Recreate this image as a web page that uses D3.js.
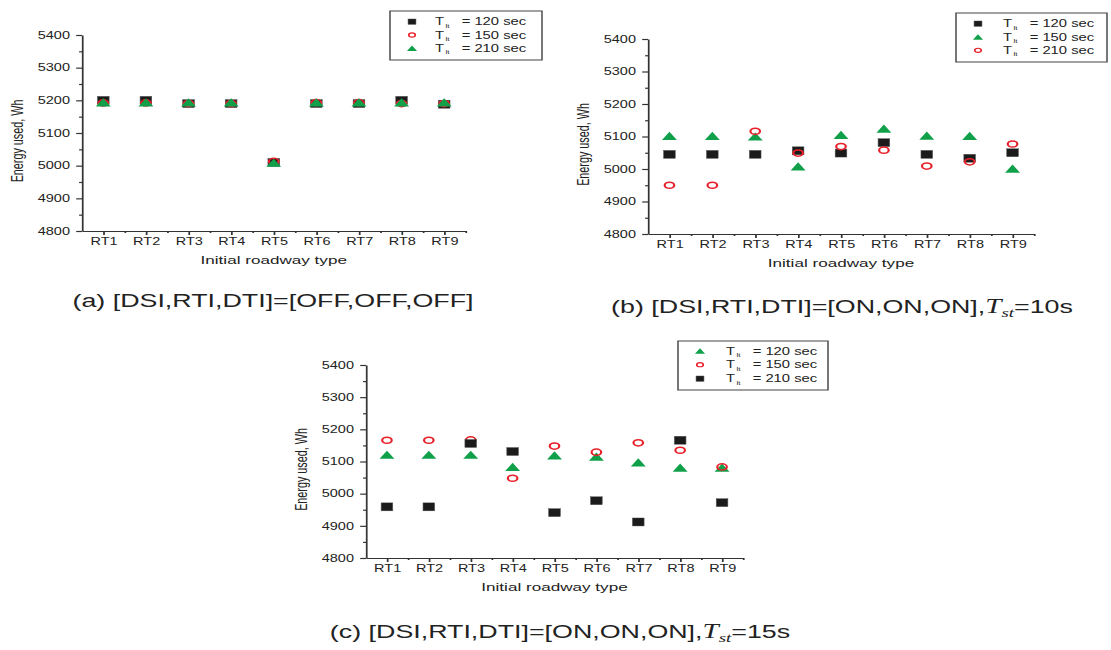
<!DOCTYPE html>
<html><head><meta charset="utf-8">
<script src="https://cdn.jsdelivr.net/npm/d3@7"></script>
<style>
body{margin:0;background:#fff}
svg{display:block}
text{font-family:"Liberation Sans",Arial,Helvetica,sans-serif;fill:#222}
</style>
</head><body>
<svg id="chart" width="1111" height="650"></svg>
<script>
// ---------- data ----------
const categories = ["RT1","RT2","RT3","RT4","RT5","RT6","RT7","RT8","RT9"];
const yTickValues = [4800,4900,5000,5100,5200,5300,5400];
const seriesLabels = ["120 sec","150 sec","210 sec"];

// (a) [OFF,OFF,OFF]
const a120 = [5200,5200,5190,5190,5010,5190,5190,5200,5188];
const a150 = [5192,5192,5190,5190,5013,5193,5193,5190,5190];
const a210 = [5194,5194,5194,5194,5009,5194,5194,5194,5194];
// (b) [ON,ON,ON], Tst=10s
const b120 = [5045,5045,5045,5056,5049,5081,5045,5033,5050];
const b150 = [5102,5102,5100,5008,5105,5124,5103,5102,5001];
const b210 = [4950,4950,5116,5049,5069,5058,5009,5022,5077];
// (c) [ON,ON,ON], Tst=15s
const c120 = [5121,5121,5121,5083,5119,5115,5097,5081,5081];
const c150 = [5166,5166,5167,5048,5148,5129,5158,5135,5083];
const c210 = [4959,4959,5156,5131,4941,4978,4912,5166,4972];

// ---------- layout ----------
const K = 1.45; // horizontal stretch of the whole figure
const svg = d3.select("#chart");
const root = svg.append("g").attr("transform", `scale(${K},1)`);

const RED = "#e8202a", GREEN = "#10a04a", BLACK = "#1b1b1b";

const panels = [
  {x0:82, x1:465.5, yTop:35, yBot:231,
   series:[{lab:seriesLabels[0], shape:"square", v:a120},
           {lab:seriesLabels[1], shape:"circle", v:a150},
           {lab:seriesLabels[2], shape:"triangle", v:a210}],
   leg:{x0:390, x1:542, y0:11, y1:60, rows:[21.7,35,48.3], mx:412, tx:435},
   cap:{x:273, y:307, main:"(a) [DSI,RTI,DTI]=[OFF,OFF,OFF]", tst:null}},
  {x0:648, x1:1034, yTop:39, yBot:234,
   series:[{lab:seriesLabels[0], shape:"square", v:b120},
           {lab:seriesLabels[1], shape:"triangle", v:b150},
           {lab:seriesLabels[2], shape:"circle", v:b210}],
   leg:{x0:956, x1:1107, y0:13, y1:62, rows:[23.7,37,50.3], mx:978, tx:1003},
   cap:{x:842, y:313, main:"(b) [DSI,RTI,DTI]=[ON,ON,ON],", tst:"=10s"}},
  {x0:366, x1:743, yTop:365, yBot:558,
   series:[{lab:seriesLabels[0], shape:"triangle", v:c120},
           {lab:seriesLabels[1], shape:"circle", v:c150},
           {lab:seriesLabels[2], shape:"square", v:c210}],
   leg:{x0:678, x1:828, y0:341, y1:390, rows:[351,364.7,378.7], mx:700, tx:726},
   cap:{x:560, y:638, main:"(c) [DSI,RTI,DTI]=[ON,ON,ON],", tst:"=15s"}}
];

function drawMarker(g, shape, cx, cy, s) {
  if (shape === "square") {
    g.append("rect").attr("x", cx - 4*s).attr("y", cy - 4*s)
      .attr("width", 8*s).attr("height", 8*s)
      .attr("fill", BLACK).attr("stroke", "#555").attr("stroke-width", 0.4);
  } else if (shape === "circle") {
    g.append("ellipse").attr("cx", cx).attr("cy", cy).attr("rx", 3.3*s).attr("ry", 3.1*s)
      .attr("fill", "none").attr("stroke", RED).attr("stroke-width", 1.5*s > 1.1 ? 1.5*s : 1.1);
  } else {
    const w = 10.3*s, h = 8.2*s;
    g.append("path")
      .attr("d", `M${cx - w/2},${cy + h/2}L${cx + w/2},${cy + h/2}L${cx},${cy - h/2}Z`)
      .attr("fill", GREEN);
  }
}

panels.forEach(p => {
  const g = root.append("g");
  const x = d3.scaleLinear().domain([0.5, 9.5]).range([p.x0 / K, p.x1 / K]);
  const y = d3.scaleLinear().domain([4800, 5400]).range([p.yBot, p.yTop]);

  // y axis
  const yAx = g.append("g").attr("transform", `translate(${x(0.5)},0)`)
    .call(d3.axisLeft(y).tickValues(yTickValues).tickFormat(d3.format("d"))
      .tickSize(4).tickSizeOuter(0).tickPadding(4.3));
  const yMinor = g.append("g").attr("transform", `translate(${x(0.5)},0)`)
    .call(d3.axisLeft(y).tickValues(d3.range(4850, 5400, 100)).tickSize(2).tickFormat(""));
  yMinor.select(".domain").remove();

  // x axis
  const xAx = g.append("g").attr("transform", `translate(0,${y(4800)})`)
    .call(d3.axisBottom(x).tickValues(d3.range(1, 10)).tickFormat(i => categories[i-1])
      .tickSize(4).tickSizeOuter(0).tickPadding(2.6));
  const xMinor = g.append("g").attr("transform", `translate(0,${y(4800)})`)
    .call(d3.axisBottom(x).tickValues(d3.range(1.5, 10, 1)).tickSize(2).tickFormat(""));
  xMinor.select(".domain").remove();

  [yAx, yMinor, xAx, xMinor].forEach(a => {
    a.selectAll("path,line").attr("stroke", "#333").attr("stroke-width", 1.2);
    a.selectAll("text").attr("font-size", 10).attr("fill", "#2a2a2a")
      .attr("font-family", '"Liberation Sans",Arial,sans-serif');
  });

  // axis titles
  g.append("text").attr("x", (x(0.5) + x(9.5)) / 2).attr("y", y(4800) + 33.5)
    .attr("text-anchor", "middle").attr("font-size", 11.8).attr("fill", "#2a2a2a")
    .text("Initial roadway type");
  const yc = (p.yTop + p.yBot) / 2 + 8;
  g.append("text").attr("transform", `translate(${x(0.5) - 40.5},${yc}) rotate(-90)`)
    .attr("text-anchor", "middle").attr("font-size", 10.8).attr("fill", "#2a2a2a")
    .text("Energy used, Wh");

  // markers
  p.series.forEach(s => {
    const mg = g.append("g");
    s.v.forEach((val, i) => drawMarker(mg, s.shape, x(i + 1), y(val), 1));
  });

  // legend
  const L = p.leg;
  g.append("rect").attr("x", L.x0 / K).attr("y", L.y0)
    .attr("width", (L.x1 - L.x0) / K).attr("height", L.y1 - L.y0)
    .attr("fill", "#fff").attr("stroke", "#555").attr("stroke-width", 1.1);
  p.series.forEach((s, i) => {
    const ry = L.rows[i];
    drawMarker(g, s.shape, L.mx / K, ry, 0.68);
    const tx = L.tx / K;
    g.append("text").attr("x", tx).attr("y", ry + 3.6).attr("font-size", 10.2).text("T");
    g.append("text").attr("x", tx + 7.2).attr("y", ry + 6.2).attr("font-size", 5.5).text("lt");
    g.append("text").attr("x", tx + 18.4).attr("y", ry + 3.6).attr("font-size", 10.2).text("= " + s.lab);
  });

  // caption
  const ct = g.append("text").attr("x", p.cap.x / K).attr("y", p.cap.y)
    .attr("text-anchor", "middle").attr("font-size", 18.5);
  ct.append("tspan").text(p.cap.main);
  if (p.cap.tst) {
    ct.append("tspan").attr("font-family", '"Liberation Serif","Times New Roman",serif')
      .attr("font-style", "italic").attr("font-size", 20).text("T");
    ct.append("tspan").attr("font-family", '"Liberation Serif","Times New Roman",serif')
      .attr("font-style", "italic").attr("font-size", 13).attr("dy", 4).text("st");
    ct.append("tspan").attr("dy", -4).text(p.cap.tst);
  }
});
</script>
</body></html>
